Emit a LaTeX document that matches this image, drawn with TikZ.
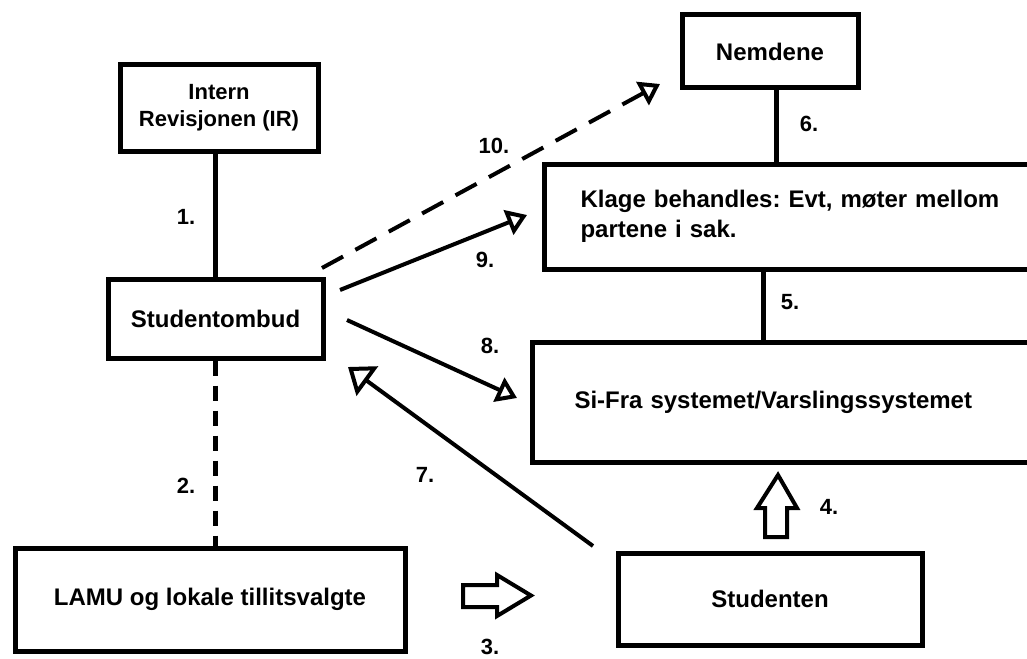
\documentclass[tikz,border=0pt]{standalone}
\usepackage{fontspec}
\setmainfont{Liberation Sans}
\usetikzlibrary{arrows.meta}
\frenchspacing
\begin{document}
\begin{tikzpicture}[x=1pt,y=-1pt,
  box/.style={draw,line width=5pt,rectangle,inner sep=0pt,align=center,
    font=\fontsize{24}{30}\selectfont\bfseries},
  lbl/.style={inner sep=0pt,font=\fontsize{22}{22}\selectfont\bfseries},
  conn/.style={line width=5pt},
  dashconn/.style={line width=5pt,dash pattern=on 15pt off 10pt},
  arr/.style={line width=4pt,-{Triangle[open,length=20pt,width=26pt]}},
  bigarr/.style={line width=4pt,-{Triangle[open,length=24pt,width=36pt]}},
  longdash/.style={dash pattern=on 24pt off 14pt},
  blockarrow/.style={draw,line width=4pt,line join=miter,fill=white}
]
\clip (0,0) rectangle (1027,658);
\fill[white] (0,0) rectangle (1027,658);

% boxes
\node[box,minimum width=198,minimum height=86,font=\fontsize{22}{27}\selectfont\bfseries] (ir) at (219,108) {Intern\\Revisjonen (IR)};
\node[box,minimum width=215,minimum height=79] (ombud) at (215.5,318.5) {Studentombud};
\node[box,minimum width=390,minimum height=103] (lamu) at (210,599.5) {LAMU og lokale tillitsvalgte};
\node[box,minimum width=304,minimum height=92] (stud) at (770,599) {Studenten};
\node[box,minimum width=176,minimum height=73] (nem) at (770,51.5) {Nemdene};
\node[box,anchor=west,minimum height=105,align=left,inner xsep=36pt,text width=480pt] (klage) at (542,216.5) {Klage behandles: Evt, møter mellom\\partene i sak.};
\node[box,anchor=west,minimum height=120,align=left,inner xsep=42pt,text width=480pt] (sifra) at (530,402) {Si-Fra systemet/Varslingssystemet};

% plain connectors
\draw[conn] (ombud.north) -- (ombud.north |- ir.south);
\draw[dashconn] (ombud.south) -- (ombud.south |- lamu.north);
\draw[conn] ([xshift=6]nem.south) -- ([xshift=6]nem.south |- klage.north);
\draw[conn] ([xshift=-7]stud.north |- sifra.north) -- ([xshift=-7]stud.north |- klage.south);

% arrow endpoints
\coordinate (a10s) at (322,268);
\coordinate (a10e) at (660,84);
\coordinate (a9s) at (340,290);
\coordinate (a9e) at (527,215);
\coordinate (a8s) at (347,320);
\coordinate (a8e) at (517,398);
\coordinate (a7s) at (593,546);
\coordinate (a7e) at (348,367);

\draw[arr,longdash] (a10s) -- (a10e);
\draw[arr] (a9s) -- (a9e);
\draw[arr] (a8s) -- (a8e);
\draw[bigarr] (a7s) -- (a7e);

% block arrows
\draw[blockarrow] (463,585) -- (497,585) -- (497,575) -- (531,595.5) -- (497,616) -- (497,607) -- (463,607) -- cycle;
\draw[blockarrow] (765,537) -- (765,508) -- (757,508) -- (778,475) -- (797,508) -- (787,508) -- (787,537) -- cycle;

% labels
\node[lbl] (n1) at (186,217) {1.};
\node[lbl] (n2) at (186,486) {2.};
\node[lbl] (n3) at (490,647) {3.};
\node[lbl] (n4) at (829,507) {4.};
\node[lbl] (n5) at (790,302) {5.};
\node[lbl] (n6) at (809,124) {6.};
\node[lbl] (n7) at (425,475) {7.};
\node[lbl] (n8) at (490,346) {8.};
\node[lbl] (n9) at (485,260) {9.};
\node[lbl] (n10) at (494,146) {10.};
\end{tikzpicture}
\end{document}
